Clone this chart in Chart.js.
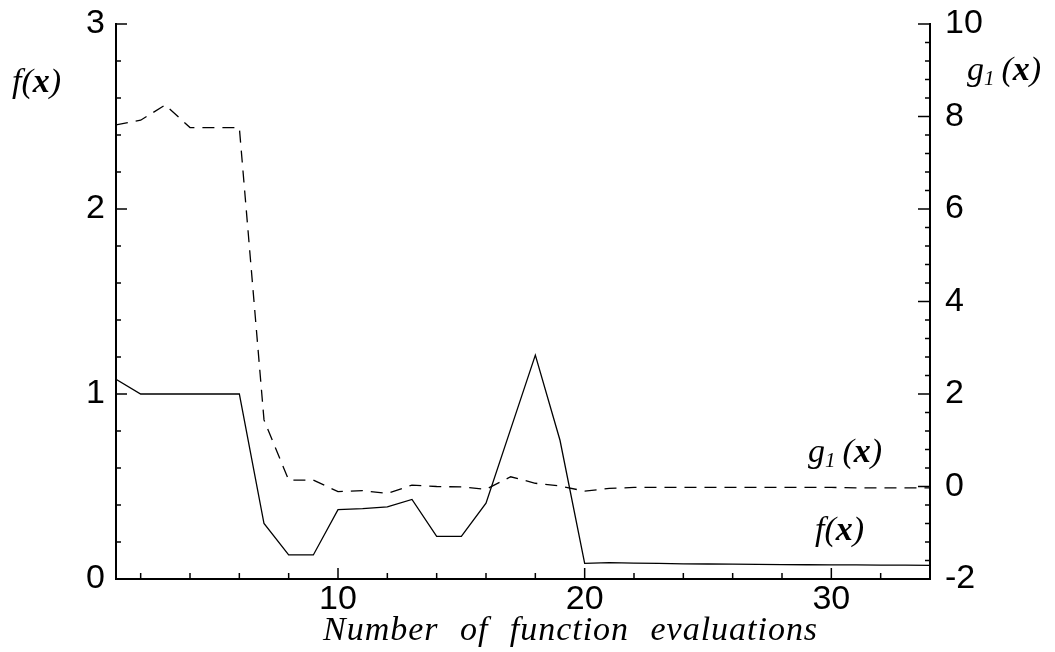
<!DOCTYPE html>
<html>
<head>
<meta charset="utf-8">
<script src="https://cdn.jsdelivr.net/npm/chart.js@4.4.0/dist/chart.umd.min.js"></script>
<style>
  body { margin: 0; background: #fff; }
  canvas { display: block; }
</style>
</head>
<body>
<canvas id="chart" width="1055" height="652"></canvas>
<script>
// evaluations 1..34
const evals = [1,2,3,4,5,6,7,8,9,10,11,12,13,14,15,16,17,18,19,20,21,22,23,24,25,26,27,28,29,30,31,32,33,34];

// f(x) - eixo esquerdo
const fValues = [1.08, 1.0, 1.0, 1.0, 1.0, 1.0, 0.3, 0.13, 0.13, 0.375, 0.38, 0.39, 0.43, 0.23, 0.23, 0.41, 0.81, 1.21, 0.75, 0.085,
  0.088, 0.086, 0.084, 0.082, 0.081, 0.08, 0.079, 0.078, 0.077, 0.076, 0.076, 0.075, 0.075, 0.074];

// g1(x) - eixo direito
const gValues = [7.82, 7.92, 8.25, 7.76, 7.76, 7.76, 1.44, 0.14, 0.14, -0.11, -0.09, -0.15, 0.03, 0.0, -0.01, -0.06, 0.21, 0.07, 0.01, -0.1,
  -0.04, -0.02, -0.02, -0.02, -0.02, -0.02, -0.02, -0.02, -0.02, -0.02, -0.03, -0.03, -0.03, -0.03];

const xTickLabels = [10, 20, 30];
const fTickLabels = [0, 1, 2, 3];
const gTickLabels = [-2, 0, 2, 4, 6, 8, 10];

const tickFont = { family: 'Liberation Sans', size: 34 };

// desenha partes de texto com estilos diferentes
function drawRich(ctx, x, y, parts) {
  let cx = x;
  parts.forEach(p => {
    ctx.font = p.font;
    ctx.fillText(p.text, cx, y + (p.dy || 0));
    cx += ctx.measureText(p.text).width + (p.gap || 0);
  });
}

const decorations = {
  id: 'decorations',
  afterDraw(chart) {
    const ctx = chart.ctx;
    const { x, yL, yR } = chart.scales;
    const area = chart.chartArea;
    ctx.save();
    ctx.strokeStyle = '#000';
    ctx.lineWidth = 1.5;

    // ticks para dentro - eixo x
    for (let v = 2; v < 34; v += 2) {
      const px = x.getPixelForValue(v);
      const len = (v % 10 === 0) ? 11 : 6;
      ctx.beginPath();
      ctx.moveTo(px, area.bottom);
      ctx.lineTo(px, area.bottom - len);
      ctx.stroke();
    }
    // eixo esquerdo, a cada 0.2
    for (let i = 1; i <= 15; i++) {
      const v = i * 0.2;
      const py = yL.getPixelForValue(v);
      const len = (i % 5 === 0) ? 11 : 5;
      ctx.beginPath();
      ctx.moveTo(area.left, py);
      ctx.lineTo(area.left + len, py);
      ctx.stroke();
    }
    // eixo direito, a cada 0.4
    for (let i = 1; i <= 30; i++) {
      const v = -2 + i * 0.4;
      const py = yR.getPixelForValue(v);
      const major = i % 5 === 0;
      ctx.beginPath();
      ctx.moveTo(area.right, py);
      ctx.lineTo(area.right - (major ? 12 : 5), py);
      ctx.stroke();
    }

    // rotulos
    ctx.fillStyle = '#000';
    ctx.textBaseline = 'alphabetic';
    ctx.textAlign = 'left';
    const it = 'italic 34px "Liberation Serif"';
    const bi = 'italic bold 34px "Liberation Serif"';
    const sub = 'italic 21px "Liberation Serif"';

    drawRich(ctx, 12, 92, [
      { text: 'f(', font: it }, { text: 'x', font: bi }, { text: ')', font: it }
    ]);
    drawRich(ctx, 967, 80, [
      { text: 'g', font: it }, { text: '1', font: sub, dy: 5, gap: 7 },
      { text: '(', font: it }, { text: 'x', font: bi }, { text: ')', font: it }
    ]);
    drawRich(ctx, 808, 462, [
      { text: 'g', font: it }, { text: '1', font: sub, dy: 5, gap: 7 },
      { text: '(', font: it }, { text: 'x', font: bi }, { text: ')', font: it }
    ]);
    drawRich(ctx, 815, 540, [
      { text: 'f(', font: it }, { text: 'x', font: bi }, { text: ')', font: it }
    ]);

    // titulo do eixo x, esticado para a largura do original
    const title = 'Number of function evaluations';
    ctx.font = 'italic 34px "Liberation Serif"';
    ctx.wordSpacing = '12px';
    const w = ctx.measureText(title).width;
    ctx.letterSpacing = Math.max(0, (494 - w) / (title.length - 1)).toFixed(2) + 'px';
    ctx.fillText(title, 323, 640);
    ctx.restore();
  }
};

// sem folga extra dos rotulos nas pontas
function fixY(width) {
  return s => { s.width = width; s.paddingTop = 0; s.paddingBottom = 0; };
}

const chart = new Chart(document.getElementById('chart'), {
  type: 'line',
  data: {
    datasets: [
      {
        label: 'f(x)',
        data: evals.map((e, i) => ({ x: e, y: fValues[i] })),
        yAxisID: 'yL',
        borderColor: '#000',
        borderWidth: 1.3,
        pointRadius: 0,
        tension: 0,
        fill: false
      },
      {
        label: 'g1(x)',
        data: evals.map((e, i) => ({ x: e, y: gValues[i] })),
        yAxisID: 'yR',
        borderColor: '#000',
        borderWidth: 1.3,
        borderDash: [12, 8],
        pointRadius: 0,
        tension: 0,
        fill: false
      }
    ]
  },
  options: {
    responsive: false,
    animation: false,
    layout: { padding: { top: 24, left: 0, right: 0, bottom: 0 } },
    plugins: {
      legend: { display: false },
      tooltip: { enabled: false }
    },
    scales: {
      x: {
        type: 'linear',
        position: 'bottom',
        min: 1,
        max: 34,
        grid: { display: false, drawTicks: false },
        border: { display: true, color: '#000', width: 2 },
        ticks: { font: tickFont, color: '#000', padding: 0, maxRotation: 0 },
        afterBuildTicks: s => { s.ticks = xTickLabels.map(v => ({ value: v })); },
        afterFit: s => { s.height = 73; s.paddingLeft = 0; s.paddingRight = 0; }
      },
      yL: {
        type: 'linear',
        position: 'left',
        min: 0,
        max: 3,
        grid: { display: false, drawTicks: false },
        border: { display: true, color: '#000', width: 2 },
        ticks: { font: tickFont, color: '#000', padding: 11 },
        afterBuildTicks: s => { s.ticks = fTickLabels.map(v => ({ value: v })); },
        afterFit: fixY(116)
      },
      yR: {
        type: 'linear',
        position: 'right',
        min: -2,
        max: 10,
        grid: { display: false, drawTicks: false },
        border: { display: true, color: '#000', width: 2 },
        ticks: { font: tickFont, color: '#000', padding: 15 },
        afterBuildTicks: s => { s.ticks = gTickLabels.map(v => ({ value: v })); },
        afterFit: fixY(125)
      }
    }
  },
  plugins: [decorations]
});
</script>
</body>
</html>
